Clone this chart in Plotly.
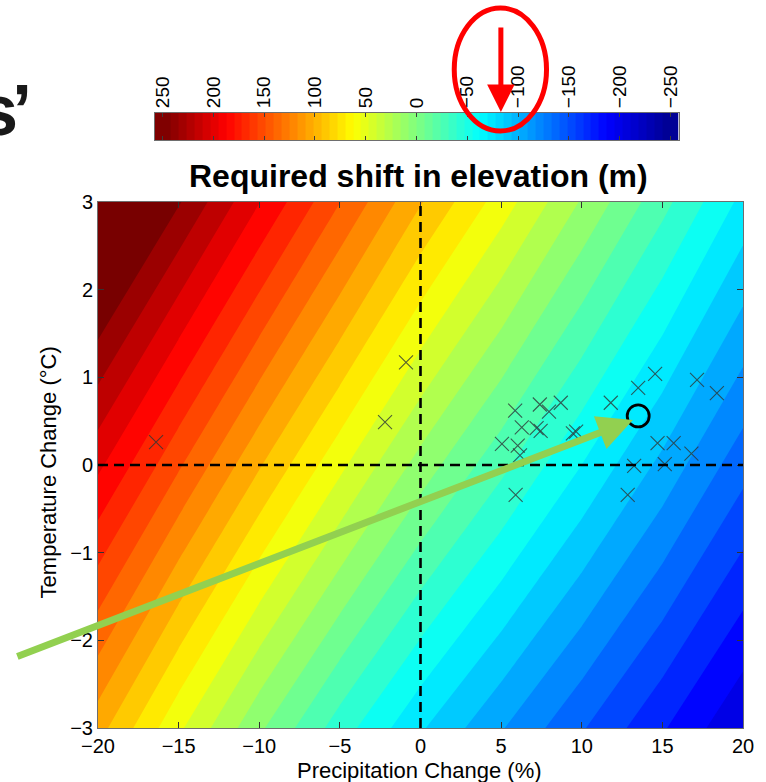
import numpy as np
import plotly.graph_objects as go

# ---- data -----------------------------------------------------------------
# Required elevation shift (m) on a precipitation / temperature change grid
precip_grid = [-20, -15, -10, -5, 0, 5, 10, 15, 20]     # %
temp_grid = [-3, 3]                                     # deg C
elev_shift = [
    [100, 50, 3, -39, -76, -108, -139, -170, -202],     # T = -3
    [282, 236, 188, 141, 95, 55, 14, -26, -67],         # T = +3
]

# Individual climate-model projections
model_precip = [-16.4, -2.2, -0.9, 5.05, 5.87, 6.03, 6.17, 6.28, 7.2, 7.45,
                7.4, 7.97, 8.7, 9.45, 9.65, 5.9, 11.8, 13.5, 14.55, 17.15,
                18.38, 14.7, 15.7, 16.8, 13.25, 15.15, 12.85]
model_temp = [0.26, 0.49, 1.17, 0.24, 0.62, 0.22, 0.11, 0.43, 0.42, 0.39,
              0.69, 0.61, 0.71, 0.36, 0.38, -0.34, 0.71, 0.88, 1.04, 0.97,
              0.82, 0.25, 0.25, 0.13, -0.01, 0.01, -0.34]

# Ensemble mean
mean_precip = [13.5]
mean_temp = [0.56]

# Colour-bar tick values
cbar_ticks = [250, 200, 150, 100, 50, 0, -50, -100, -150, -200, -250]

# ---- styling --------------------------------------------------------------
LEVEL_MIN, LEVEL_MAX, N_BANDS = -250, 250, 32
STEP = (LEVEL_MAX - LEVEL_MIN) / N_BANDS
N_CBAR = 64                                   # colour steps shown in the bar

jet = [
    [0.0, "rgb(0,0,143)"],
    [0.125, "rgb(0,0,255)"],
    [0.375, "rgb(0,255,255)"],
    [0.625, "rgb(255,255,0)"],
    [0.875, "rgb(255,0,0)"],
    [1.0, "rgb(120,0,0)"],
]

W, H = 766, 782
L, R, TOP, BOT = 98, 748, 100, 728      # plotting region in pixels


def px(x):
    return (x - L) / (R - L)


def py(y):
    return (BOT - y) / (BOT - TOP)


FONT = "Liberation Sans, Arial, Helvetica, sans-serif"

fig = go.Figure()

# Filled contour of the required elevation shift
fig.add_trace(go.Contour(
    x=precip_grid, y=temp_grid, z=elev_shift,
    colorscale=jet, zauto=False, zmin=LEVEL_MIN, zmax=LEVEL_MAX,
    autocontour=False,
    contours=dict(start=LEVEL_MIN + STEP, end=LEVEL_MAX - STEP, size=STEP,
                  coloring="fill", showlines=False),
    line=dict(width=0, smoothing=0),
    showscale=False, hoverinfo="skip",
))

# Colour bar drawn as a one-row heat strip on its own axes
cb_edges = list(np.linspace(LEVEL_MIN, LEVEL_MAX, N_CBAR + 1))
cb_mids = [(a + b) / 2 for a, b in zip(cb_edges[:-1], cb_edges[1:])]
cb_edges[0] -= 8
cb_edges[-1] += 8
fig.add_trace(go.Heatmap(
    x=cb_edges, y=[0, 1], z=[cb_mids],
    colorscale=jet, zmin=LEVEL_MIN, zmax=LEVEL_MAX,
    showscale=False, hoverinfo="skip",
    xaxis="x2", yaxis="y2",
))

# Model projections
fig.add_trace(go.Scatter(
    x=model_precip, y=model_temp, mode="markers",
    marker=dict(symbol="x-thin-open", size=14, color="rgba(45,55,55,0.8)",
                line=dict(width=1.1, color="rgba(45,55,55,0.8)")),
    hoverinfo="skip", showlegend=False,
))
# Ensemble mean
fig.add_trace(go.Scatter(
    x=mean_precip, y=mean_temp, mode="markers",
    marker=dict(symbol="circle-open", size=22, color="black",
                line=dict(width=2.8, color="black")),
    hoverinfo="skip", showlegend=False,
))

main_dom_top = py(202)
axis_common = dict(
    showgrid=False, zeroline=False, showline=True, mirror="allticks",
    linecolor="rgb(110,110,110)", linewidth=1,
    ticks="inside", ticklen=6, tickcolor="rgb(50,50,50)",
    tickfont=dict(family=FONT, size=20, color="black"),
)

fig.update_layout(
    width=W, height=H,
    margin=dict(l=L, r=W - R, t=TOP, b=H - BOT),
    paper_bgcolor="white", plot_bgcolor="white",
    showlegend=False,
    xaxis=dict(range=[-20, 20], tickvals=[-20, -15, -10, -5, 0, 5, 10, 15, 20],
               domain=[0, 1], anchor="y", **axis_common),
    yaxis=dict(range=[-3, 3], tickvals=[-3, -2, -1, 0, 1, 2, 3],
               domain=[0, main_dom_top], anchor="x", **axis_common),
    xaxis2=dict(range=[LEVEL_MAX + 8, LEVEL_MIN - 8], tickvals=cbar_ticks,
                domain=[px(155), px(683)], anchor="y2", side="top",
                tickangle=-90, ticks="inside", ticklen=4,
                tickcolor="rgb(60,60,60)", showline=True, mirror="allticks",
                linecolor="rgb(110,110,110)", linewidth=1,
                showgrid=False, zeroline=False,
                tickfont=dict(family=FONT, size=19, color="black")),
    yaxis2=dict(range=[0, 1], domain=[py(140), py(113)], anchor="x2",
                showticklabels=False, ticks="", showgrid=False,
                zeroline=False, showline=True, mirror=True,
                linecolor="rgb(110,110,110)", linewidth=1),
)

# Zero reference lines
for shp in (dict(x0=0, x1=0, y0=-3, y1=3), dict(x0=-20, x1=20, y0=0, y1=0)):
    fig.add_shape(type="line", xref="x", yref="y", **shp,
                  line=dict(color="black", width=2.6, dash="10px,6px"))

# Colour-bar caption and axis titles
fig.add_annotation(text="<b>Required shift in elevation (m)</b>",
                   xref="paper", yref="paper", x=px(421), y=py(176),
                   showarrow=False, xanchor="center", yanchor="middle",
                   font=dict(family=FONT, size=32, color="black"))
fig.add_annotation(text="Precipitation Change (%)",
                   xref="paper", yref="paper", x=px(422), y=py(770),
                   showarrow=False, xanchor="center", yanchor="middle",
                   font=dict(family=FONT, size=22, color="black"))
fig.add_annotation(text="Temperature Change (°C)", textangle=-90,
                   xref="paper", yref="paper", x=px(48), y=py(472),
                   showarrow=False, xanchor="center", yanchor="middle",
                   font=dict(family=FONT, size=22, color="black"))

# Slide heading fragment, cut by the left edge
fig.add_annotation(text='<b><span style="letter-spacing:-6px">s</span>’</b>',
                   xref="paper", yref="paper",
                   x=px(-25), y=py(110), showarrow=False,
                   xanchor="left", yanchor="middle",
                   font=dict(family=FONT, size=72, color="rgb(25,25,25)"))

# Highlight on the colour bar: red ellipse and arrow
fig.add_shape(type="circle", xref="paper", yref="paper",
              x0=px(457), x1=px(550), y0=py(131), y1=py(8),
              line=dict(color="rgb(255,0,0)", width=5))
fig.add_annotation(text="", xref="paper", yref="paper",
                   x=px(504), y=py(112), ax=0, ay=-86,
                   showarrow=True, arrowhead=2, arrowsize=1.1,
                   arrowwidth=5, arrowcolor="rgb(255,0,0)", standoff=0)

# Green arrow pointing to the ensemble mean
fig.add_annotation(text="", xref="paper", yref="paper",
                   x=px(637), y=py(420), ax=20 - 637, ay=657 - 420,
                   showarrow=True, arrowhead=2, arrowsize=1.0,
                   arrowwidth=7, arrowcolor="rgb(146,208,80)", standoff=0)

fig.write_html("out.html")
